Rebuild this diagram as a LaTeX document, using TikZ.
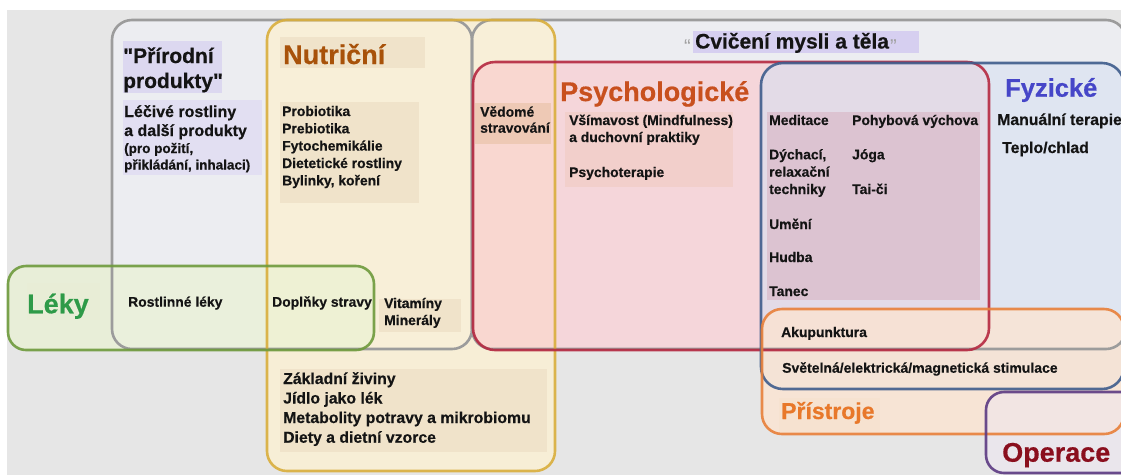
\documentclass[tikz,border=0pt]{standalone}
\usepackage{fontspec}
\setmainfont{Liberation Sans}[BoldFeatures={FakeBold=0.5}]
\definecolor{pagebg}{HTML}{E6E6E6}
\definecolor{grayfill}{HTML}{ECEDF1}
\definecolor{graystroke}{HTML}{9C9C9C}
\definecolor{quotegray}{HTML}{A0A0A0}
\definecolor{yelfill}{HTML}{FCF0D2}
\definecolor{yelstroke}{HTML}{D9AE3C}
\definecolor{grnfill}{HTML}{EAF3D2}
\definecolor{grnstroke}{HTML}{6E9A3C}
\definecolor{redfill}{HTML}{FBC7CB}
\definecolor{redstroke}{HTML}{B52840}
\definecolor{bluefill}{HTML}{D5E0F2}
\definecolor{bluestroke}{HTML}{3E5C8C}
\definecolor{orfill}{HTML}{FFE4CE}
\definecolor{orstroke}{HTML}{E8803A}
\definecolor{purfill}{HTML}{EEE6F2}
\definecolor{purstroke}{HTML}{5C3A82}
\definecolor{ink}{HTML}{141414}
\definecolor{cNutri}{HTML}{A8520A}
\definecolor{cPsych}{HTML}{C8501E}
\definecolor{cFyz}{HTML}{4646C8}
\definecolor{cLeky}{HTML}{2E9A48}
\definecolor{cPrist}{HTML}{E8782A}
\definecolor{cOper}{HTML}{8A0F1E}
\definecolor{pLav}{HTML}{DCD8F0}
\definecolor{pLav2}{HTML}{E2DFF2}
\definecolor{pLav3}{HTML}{D6CFF0}
\definecolor{pYel}{HTML}{F0E3CA}
\definecolor{pSal}{HTML}{EEC9B5}
\definecolor{pPink}{HTML}{F2CFCB}
\definecolor{pMauve}{HTML}{DCC3D1}
\definecolor{pGrn}{HTML}{E8EDD6}
\definecolor{pOr}{HTML}{F6E2D0}
\begin{document}
\begin{tikzpicture}[x=1pt,y=-1pt,
  box/.style={line width=2.6pt, rounded corners=20pt},
  txt/.style={anchor=base west, inner sep=0pt, text=ink, font=\bfseries\fontsize{13.9}{16}\selectfont},
  bigtxt/.style={anchor=base west, inner sep=0pt, text=ink, font=\bfseries\fontsize{15.8}{18}\selectfont},
  smalltxt/.style={anchor=base west, inner sep=0pt, text=ink, font=\bfseries\fontsize{13.5}{16}\selectfont},
  title/.style={anchor=base west, inner sep=0pt, font=\bfseries\fontsize{27}{30}\selectfont},
  quot/.style={anchor=base west, inner sep=0pt, text=quotegray, font=\fontsize{20}{22}\selectfont}]
\useasboundingbox (0,0) rectangle (1121,475);
\fill[white] (0,0) rectangle (1121,475);
\fill[pagebg] (7,10) rectangle (1121,475);
% box fills
\fill[box, grayfill] (472,20) rectangle (1126,349);
\fill[box, grayfill] (112,20) rectangle (472,349);
\fill[box, yelfill, fill opacity=0.8] (267,20) rectangle (555,471);
\fill[box, grnfill, fill opacity=0.65, rounded corners=18pt] (8,266) rectangle (374,350);
\fill[box, redfill, fill opacity=0.6, rounded corners=22pt] (473,62) rectangle (989,350);
\fill[box, bluefill, fill opacity=0.55, rounded corners=22pt] (761,63) rectangle (1124,389);
\fill[box, orfill, fill opacity=0.7] (762,309) rectangle (1124,434);
\fill[box, purfill, fill opacity=0.5, rounded corners=18pt] (986,392) rectangle (1140,473);
% box outlines
\draw[box, graystroke] (472,20) rectangle (1126,349);
\draw[box, graystroke] (112,20) rectangle (472,349);
\draw[box, yelstroke, draw opacity=0.9] (267,20) rectangle (555,471);
\draw[box, grnstroke, draw opacity=0.9, rounded corners=18pt] (8,266) rectangle (374,350);
\draw[box, redstroke, draw opacity=0.9, rounded corners=22pt] (473,62) rectangle (989,350);
\draw[box, bluestroke, draw opacity=0.9, rounded corners=22pt] (761,63) rectangle (1124,389);
\draw[box, orstroke, draw opacity=0.9] (762,309) rectangle (1124,434);
\draw[box, purstroke, draw opacity=0.9, rounded corners=18pt] (986,392) rectangle (1140,473);
% text background patches
\fill[pLav] (123,41) rectangle (222,93);
\fill[pLav2] (123,100) rectangle (262,175);
\fill[pYel] (280,37) rectangle (425,68);
\fill[pYel] (280,102) rectangle (419,203);
\fill[pLav3] (693,31) rectangle (919,53);
\fill[pSal] (475,103) rectangle (551,144);
\fill[pPink] (565,112) rectangle (733,187);
\fill[pMauve] (767,112) rectangle (980,300);
\fill[pGrn] (27,283) rectangle (100,320);
\fill[pYel] (379,299) rectangle (461,332);
\fill[pYel] (280,369) rectangle (547,452);
\fill[pOr] (779,398) rectangle (880,432);
% texts
\node[anchor=base west, inner sep=0pt, text=ink, font=\bfseries\fontsize{21}{24}\selectfont] (pp1) at (123,63) {\textquotedbl Přírodní};
\node[anchor=base west, inner sep=0pt, text=ink, font=\bfseries\fontsize{21}{24}\selectfont] (pp2) at (123,88) {produkty\textquotedbl};
\node[anchor=base west, inner sep=0pt, text=ink, font=\bfseries\fontsize{16}{18}\selectfont] (lr1) at (124,117) {Léčivé rostliny};
\node[anchor=base west, inner sep=0pt, text=ink, font=\bfseries\fontsize{16}{18}\selectfont] (lr2) at (124,136) {a další produkty};
\node[smalltxt] (lr3) at (124,153) {(pro požití,};
\node[smalltxt] (lr4) at (124,169.5) {přikládání, inhalaci)};
\node[title, text=cNutri] (nut) at (283,64) {Nutriční};
\node[txt] (n1) at (282,116) {Probiotika};
\node[txt] (n2) at (282,133.3) {Prebiotika};
\node[txt] (n3) at (282,150.6) {Fytochemikálie};
\node[txt] (n4) at (282,168) {Dietetické rostliny};
\node[txt] (n5) at (282,185.3) {Bylinky, koření};
\node[txt] (v1) at (480,116.7) {Vědomé};
\node[txt] (v2) at (480,132.7) {stravování};
\node[quot] (cq1) at (684,53) {\textquotedblleft};
\node[anchor=base west, inner sep=0pt, text=ink, font=\bfseries\fontsize{21}{24}\selectfont] (cv) at (695,48.5) {Cvičení mysli a těla};
\node[quot] (cq2) at (890,53) {\textquotedblright};
\node[title, text=cPsych] (psy) at (560,101) {Psychologické};
\node[txt] (p1) at (569,125) {Všímavost (Mindfulness)};
\node[txt] (p2) at (569,142) {a duchovní praktiky};
\node[txt] (p3) at (569,177) {Psychoterapie};
\node[txt] (m1) at (769,125) {Meditace};
\node[txt] (m2) at (852,125) {Pohybová výchova};
\node[txt] (m3) at (769,159.3) {Dýchací,};
\node[txt] (m4) at (769,176.7) {relaxační};
\node[txt] (m5) at (769,194) {techniky};
\node[txt] (m6) at (852,159.3) {Jóga};
\node[txt] (m7) at (852,194) {Tai-či};
\node[txt] (m8) at (769,229) {Umění};
\node[txt] (m9) at (769,262) {Hudba};
\node[txt] (m10) at (769,296) {Tanec};
\node[anchor=base west, inner sep=0pt, text=cFyz, font=\bfseries\fontsize{25.5}{28}\selectfont] (fyz) at (1005,96.7) {Fyzické};
\node[txt, font=\bfseries\fontsize{15.8}{17}\selectfont] (f1) at (997,125) {Manuální terapie};
\node[txt, font=\bfseries\fontsize{15.8}{17}\selectfont] (f2) at (1002,153) {Teplo/chlad};
\node[title, text=cLeky] (lek) at (27,313.3) {Léky};
\node[txt] (rl) at (128,306.7) {Rostlinné léky};
\node[txt] (ds) at (272,306.7) {Doplňky stravy};
\node[txt] (vi1) at (384,308) {Vitamíny};
\node[txt] (vi2) at (384,325) {Minerály};
\node[bigtxt] (z1) at (283,384) {Základní živiny};
\node[bigtxt] (z2) at (283,403.5) {Jídlo jako lék};
\node[bigtxt] (z3) at (283,423) {Metabolity potravy a mikrobiomu};
\node[bigtxt] (z4) at (283,442.7) {Diety a dietní vzorce};
\node[txt] (ak) at (781,337) {Akupunktura};
\node[txt, font=\bfseries\fontsize{14}{16}\selectfont] (sv) at (782,372.7) {Světelná/elektrická/magnetická stimulace};
\node[anchor=base west, inner sep=0pt, text=cPrist, font=\bfseries\fontsize{23}{26}\selectfont] (pri) at (781,419) {Přístroje};
\node[title, text=cOper] (op) at (1002,461.7) {Operace};
\end{tikzpicture}
\end{document}
